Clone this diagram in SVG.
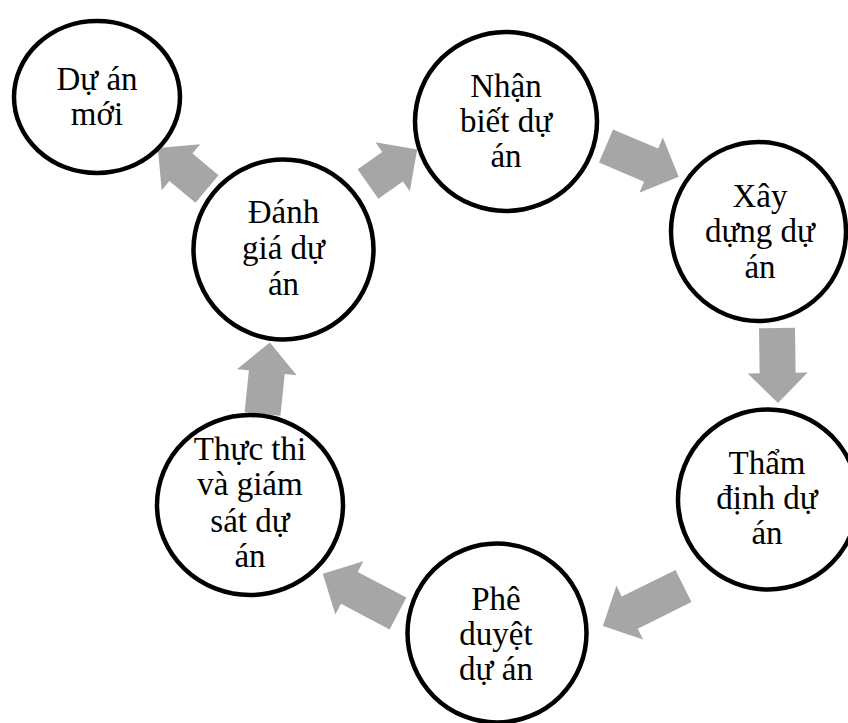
<svg xmlns="http://www.w3.org/2000/svg" width="848" height="723" viewBox="0 0 848 723">
<style>
.node{fill:#ffffff;stroke:#000000;stroke-width:4.5}
.arr{fill:#A6A6A6;stroke:none}
.lbl{font-size:33px;fill:#000000;text-anchor:middle}
</style>
<rect width="848" height="723" fill="#ffffff"/>
<g id="connectors">
<path class="arr" transform="translate(207,189) rotate(-140.1)" d="M0,-18 H34 V-30 L64,0 L34,30 V18 H0 Z"/>
<path class="arr" transform="translate(368,184) rotate(-35)" d="M0,-18 H30 V-30 L60,0 L30,30 V18 H0 Z"/>
<path class="arr" transform="translate(606,146) rotate(23)" d="M0,-18 H49 V-30 L79,0 L49,30 V18 H0 Z"/>
<path class="arr" transform="translate(777,328) rotate(89.2)" d="M0,-18 H45 V-30 L75,0 L45,30 V18 H0 Z"/>
<path class="arr" transform="translate(683.5,586) rotate(153.6)" d="M0,-18 H60 V-30 L90,0 L60,30 V18 H0 Z"/>
<path class="arr" transform="translate(398,613.5) rotate(-152.2)" d="M0,-18 H55 V-30 L85,0 L55,30 V18 H0 Z"/>
<path class="arr" transform="translate(262.5,414) rotate(-84.1)" d="M0,-18 H42 V-30 L72,0 L42,30 V18 H0 Z"/>
</g>
<g font-family="Liberation Serif, serif">
<g id="node-du-an-moi">
<ellipse class="node" cx="97" cy="97" rx="83" ry="76"/>
<text class="lbl" x="97" y="90">Dự án</text>
<text class="lbl" x="97" y="125">mới</text>
</g>
<g id="node-danh-gia">
<circle class="node" cx="283.5" cy="249.5" r="90"/>
<text class="lbl" x="283.5" y="223">Đánh</text>
<text class="lbl" x="283.5" y="259">giá dự</text>
<text class="lbl" x="283.5" y="295">án</text>
</g>
<g id="node-nhan-biet">
<ellipse class="node" cx="506" cy="121.5" rx="91" ry="89.5"/>
<text class="lbl" x="506" y="97">Nhận</text>
<text class="lbl" x="506" y="132">biết dự</text>
<text class="lbl" x="506" y="167">án</text>
</g>
<g id="node-xay-dung">
<ellipse class="node" cx="758.5" cy="231.5" rx="87.5" ry="89.5"/>
<text class="lbl" x="760" y="207">Xây</text>
<text class="lbl" x="760" y="242">dựng dự</text>
<text class="lbl" x="760" y="278">án</text>
</g>
<g id="node-tham-dinh">
<circle class="node" cx="768" cy="499.5" r="90"/>
<text class="lbl" x="767" y="474">Thẩm</text>
<text class="lbl" x="767" y="509">định dự</text>
<text class="lbl" x="767" y="544">án</text>
</g>
<g id="node-phe-duyet">
<circle class="node" cx="497" cy="633" r="89.5"/>
<text class="lbl" x="496" y="610">Phê</text>
<text class="lbl" x="496" y="645">duyệt</text>
<text class="lbl" x="496" y="680">dự án</text>
</g>
<g id="node-thuc-thi">
<ellipse class="node" cx="250" cy="505" rx="93" ry="90"/>
<text class="lbl" x="250" y="460">Thực thi</text>
<text class="lbl" x="250" y="495">và giám</text>
<text class="lbl" x="250" y="532">sát dự</text>
<text class="lbl" x="250" y="567">án</text>
</g>
</g>
</svg>
